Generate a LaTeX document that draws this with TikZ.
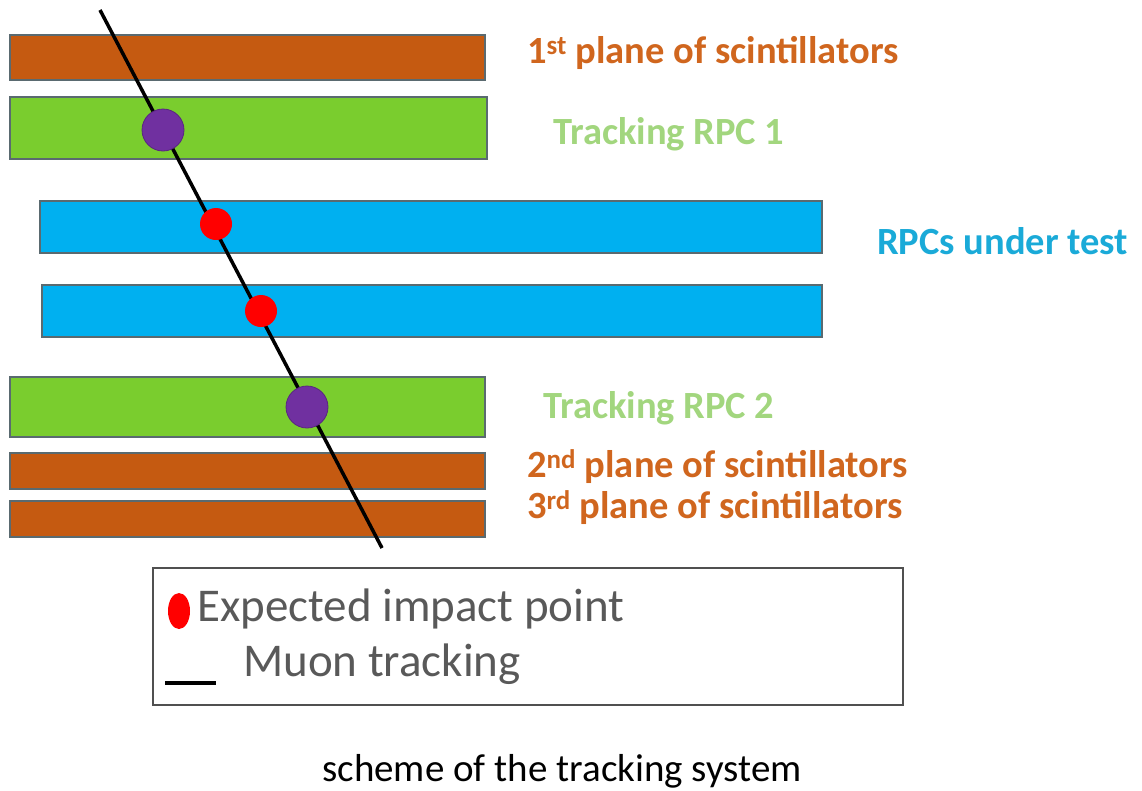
\documentclass[tikz,border=0pt]{standalone}
\usepackage{fontspec}
\setmainfont{Carlito}
\usetikzlibrary{shapes.geometric}
\definecolor{scint}{HTML}{C55A11}
\definecolor{trk}{HTML}{7ACD2E}
\definecolor{rpc}{HTML}{00B0F0}
\definecolor{scinttxt}{HTML}{D0661E}
\definecolor{trktxt}{HTML}{A2D67E}
\definecolor{rpctxt}{HTML}{1AAAD8}
\definecolor{purp}{HTML}{7030A0}
\definecolor{edge}{HTML}{5A6A70}
\definecolor{legtxt}{HTML}{595959}
\tikzset{
  bar/.style={draw=edge, line width=1.5pt},
  lbl/.style={anchor=west, inner sep=0pt, font=\bfseries\fontsize{38.5}{40}\selectfont},
  legt/.style={anchor=west, inner sep=0pt, text=legtxt, font=\fontsize{47}{50}\selectfont},
  hitbig/.style={circle, fill=purp, draw=purp!80!black, line width=0.8pt, minimum size=42pt, inner sep=0pt},
  hitsmall/.style={circle, fill=red, minimum size=32pt, inner sep=0pt},
}
\begin{document}
\begin{tikzpicture}[x=1pt, y=-1pt]
\useasboundingbox (0,0) rectangle (1142,790);
% bars
\path[bar, fill=scint] (10,35) rectangle (485,80);
\path[bar, fill=trk] (10,97) rectangle (487,159);
\path[bar, fill=rpc] (40,201) rectangle (822,253);
\path[bar, fill=rpc] (42,285) rectangle (822,337);
\path[bar, fill=trk] (10,377) rectangle (485,437);
\path[bar, fill=scint] (10,453) rectangle (485,489);
\path[bar, fill=scint] (10,501) rectangle (485,537);
% track
\coordinate (tstart) at (100,10);
\coordinate (tend) at (382,548);
\draw[line width=3.5pt] (tstart) -- (tend);
\node[hitbig] (p1) at (163,130) {};
\node[hitsmall] (r1) at (216,224) {};
\node[hitsmall] (r2) at (261,311) {};
\node[hitbig] (p2) at (307,407) {};
% labels
\node[lbl, text=scinttxt] (l1) at (527,53) {1\textsuperscript{st} plane of scintillators};
\node[lbl, text=trktxt] (l2) at (553,134) {Tracking RPC 1};
\node[lbl, text=rpctxt] (l3) at (877,241) {RPCs under test};
\node[lbl, text=trktxt] (l4) at (543,408) {Tracking RPC 2};
\node[lbl, text=scinttxt] (l5) at (527,467) {2\textsuperscript{nd} plane of scintillators};
\node[lbl, text=scinttxt] (l6) at (527,508) {3\textsuperscript{rd} plane of scintillators};
% legend
\draw[line width=2.5pt, draw=legtxt!90!black] (153,568) rectangle (903,705);
\node[ellipse, fill=red, minimum width=22pt, minimum height=36pt, inner sep=0pt] (lr) at (179,611) {};
\node[legt] (lt1) at (197,609) {Expected impact point};
\coordinate (lk1) at (165,683);
\coordinate (lk2) at (216,683);
\draw[line width=4pt] (lk1) -- (lk2);
\node[legt] (lt2) at (243,664) {Muon tracking};
% caption
\node[inner sep=0pt, font=\fontsize{39}{42}\selectfont] (cap) at (562,771) {scheme of the tracking system};
\end{tikzpicture}
\end{document}
